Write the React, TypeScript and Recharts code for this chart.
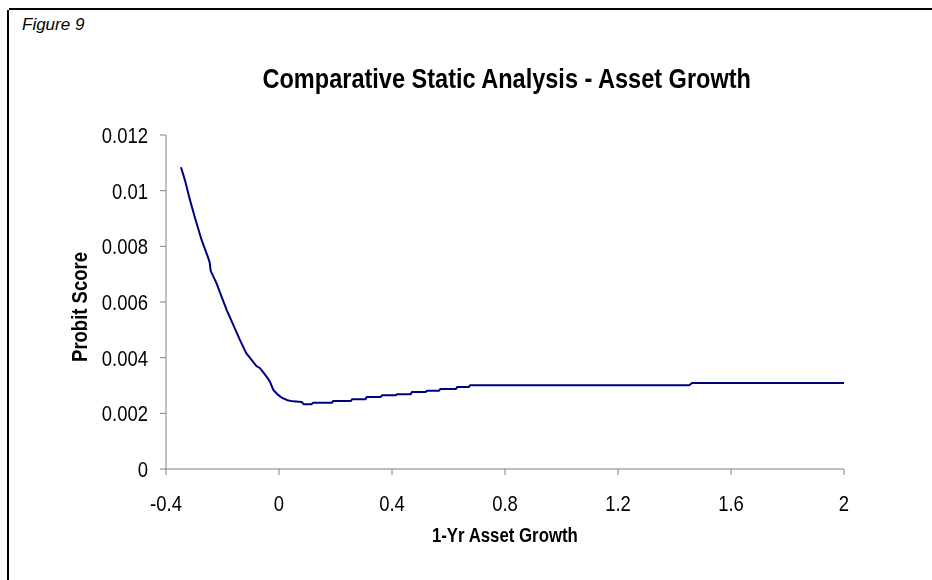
import { LineChart, Line, XAxis, YAxis } from "recharts";

// 1-yr asset growth (x) and probit score (y)
const growth = [
  -0.347, -0.333, -0.315, -0.297, -0.274, -0.25, -0.245, -0.242, -0.221, -0.2,
  -0.185, -0.138, -0.116, -0.097, -0.08, -0.067, -0.044, -0.032, -0.02, -0.005,
  0.01, 0.03, 0.05, 0.08, 0.088, 0.115, 0.121, 0.187, 0.192, 0.254, 0.259,
  0.306, 0.311, 0.36, 0.365, 0.413, 0.418, 0.466, 0.471, 0.519, 0.524, 0.566,
  0.571, 0.626, 0.631, 0.672, 0.677, 1.452, 1.462, 2.0,
];
const probit = [
  0.01084, 0.01038, 0.00966, 0.00901, 0.00823, 0.00757, 0.0074, 0.00712,
  0.00667, 0.0061, 0.00571, 0.00463, 0.00416, 0.00392, 0.0037, 0.00362,
  0.00332, 0.00314, 0.00284, 0.00268, 0.00256, 0.00247, 0.00243, 0.00241,
  0.00233, 0.00233, 0.00238, 0.00238, 0.00244, 0.00244, 0.00251, 0.00251,
  0.00259, 0.00259, 0.00265, 0.00265, 0.00269, 0.00269, 0.00277, 0.00277,
  0.00281, 0.00281, 0.00287, 0.00287, 0.00295, 0.00295, 0.00301, 0.00301,
  0.00309, 0.00309,
];

const xTicks = [-0.4, 0, 0.4, 0.8, 1.2, 1.6, 2];
const yTicks = [0, 0.002, 0.004, 0.006, 0.008, 0.01, 0.012];

const data = growth.map((g, i) => ({ growth: g, probit: probit[i] }));

const sans = '"Liberation Sans", Arial, sans-serif';
const SQUEEZE = 0.84; // fake Arial Narrow

function YTick(props: any) {
  const { x, y, payload } = props;
  return (
    <text
      transform={`translate(${x},${y}) scale(${SQUEEZE},1)`}
      textAnchor="end"
      dy="0.36em"
      fontSize={22}
      fontFamily={sans}
      fill="#000"
    >
      {payload.value}
    </text>
  );
}

function XTick(props: any) {
  const { x, y, payload } = props;
  return (
    <text
      transform={`translate(${x},${y}) scale(${SQUEEZE},1)`}
      textAnchor="middle"
      dy="0.71em"
      fontSize={22}
      fontFamily={sans}
      fill="#000"
    >
      {payload.value}
    </text>
  );
}

const squeezed = (size: number, bold = true) => ({
  display: "inline-block",
  fontSize: size,
  fontWeight: bold ? "bold" : "normal",
  transform: `scaleX(${SQUEEZE})`,
  whiteSpace: "nowrap" as const,
});

export default function App() {
  return (
    <div
      style={{
        position: "fixed",
        left: 0,
        top: 0,
        width: 932,
        height: 580,
        background: "#fff",
        fontFamily: sans,
        color: "#000",
        lineHeight: "normal",
      }}
    >
      {/* frame */}
      <div style={{ position: "absolute", left: 9, top: 8, width: 923, height: 2, background: "#000" }} />
      <div style={{ position: "absolute", left: 7, top: 10, width: 2, height: 570, background: "#000" }} />

      <div style={{ position: "absolute", left: 22, top: 15, fontSize: 17, fontStyle: "italic" }}>
        Figure 9
      </div>
      <div style={{ position: "absolute", left: 0, width: 1014, top: 63, textAlign: "center" }}>
        <span style={squeezed(28)}>Comparative Static Analysis - Asset Growth</span>
      </div>

      <div style={{ position: "absolute", left: 0, top: 0 }}>
        <LineChart
          width={932}
          height={580}
          data={data}
          margin={{ top: 135, right: 88, bottom: 51, left: 86 }}
        >
          <XAxis
            dataKey="growth"
            type="number"
            domain={[-0.4, 2]}
            ticks={xTicks}
            interval={0}
            stroke="#808080"
            tickSize={6}
            tickMargin={20}
            height={60}
            tick={<XTick />}
            tickLine={{ stroke: "#808080" }}
            allowDataOverflow
          />
          <YAxis
            type="number"
            domain={[0, 0.012]}
            ticks={yTicks}
            interval={0}
            width={80}
            stroke="#808080"
            tickSize={6}
            tickMargin={12}
            tick={<YTick />}
            tickLine={{ stroke: "#808080" }}
          />
          <Line
            type="linear"
            dataKey="probit"
            stroke="#000080"
            strokeWidth={2}
            dot={false}
            isAnimationActive={false}
          />
        </LineChart>
      </div>

      <div
        style={{
          position: "absolute",
          left: 80,
          top: 307,
          transform: "translate(-50%, -50%) rotate(-90deg)",
        }}
      >
        <span style={squeezed(22)}>Probit Score</span>
      </div>
      <div style={{ position: "absolute", left: 0, width: 1010, top: 524, textAlign: "center" }}>
        <span style={squeezed(20)}>1-Yr Asset Growth</span>
      </div>
    </div>
  );
}
